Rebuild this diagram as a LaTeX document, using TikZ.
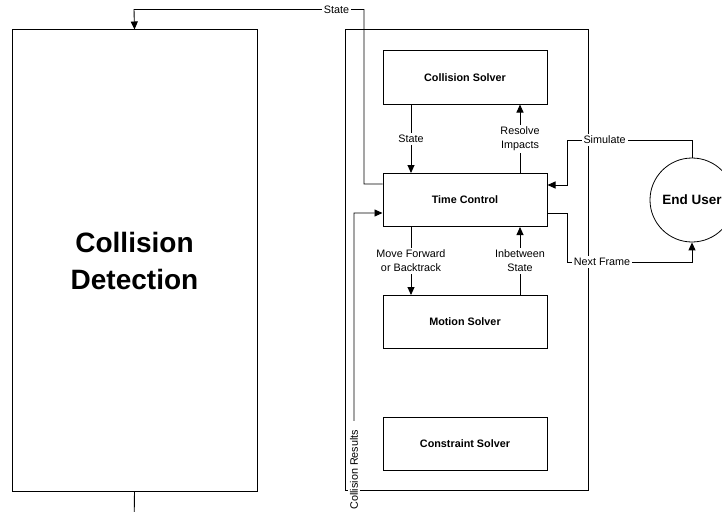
\documentclass[tikz,border=0pt]{standalone}
\usepackage{fontspec}
\setmainfont{Liberation Sans}
\usetikzlibrary{arrows.meta}

\tikzset{
  wire/.style={line width=0.9pt, draw=black},
  arr/.style={wire, -{Triangle[length=8pt,width=7pt]}},
  solver/.style={draw, line width=1pt, minimum width=164pt, minimum height=53pt,
    inner sep=0pt, font=\fontsize{10.8}{13}\selectfont\bfseries},
  lbl/.style={fill=white, align=center, inner sep=2pt,
    font=\fontsize{10.8}{14}\selectfont},
}

\begin{document}
\begin{tikzpicture}[x=1pt,y=-1pt]
  \path[use as bounding box] (0,0) rectangle (722,511);

  % detection block on the left
  \node[draw, line width=1pt, minimum width=245pt, minimum height=461pt, inner sep=0pt,
        align=center, font=\fontsize{28}{37}\selectfont\bfseries]
        (cd) at (134.5,260.5) {Collision\\Detection};

  % frame grouping the solvers
  \node[draw, line width=1pt, minimum width=243pt, minimum height=460pt, inner sep=0pt]
        (frame) at (466.5,260) {};

  \node[solver] (cs)  at (465,77.5) {Collision Solver};
  \node[solver] (tc)  at (465,200)  {Time Control};
  \node[solver] (ms)  at (465,322)  {Motion Solver};
  \node[solver] (con) at (465,444)  {Constraint Solver};

  \node[draw, circle, line width=0.8pt, minimum size=84pt, inner sep=0pt,
        font=\fontsize{13.5}{16}\selectfont\bfseries] (eu) at (692,200) {End User};

  % routing points
  \coordinate (s1) at (364,184);
  \coordinate (s2) at (364,9.5);
  \coordinate (s3) at (134,9.5);
  \coordinate (r1) at (134,530);
  \coordinate (r2) at (354,530);
  \coordinate (r3) at (354,213);
  \coordinate (u1) at (692,140);
  \coordinate (u2) at (567,140);
  \coordinate (u3) at (567,185);
  \coordinate (f1) at (567,213);
  \coordinate (f2) at (567,262);
  \coordinate (f3) at (692,262);

  % solver <-> time control
  \draw[arr] ([xshift=-54pt]cs.south) -- node[lbl] {State} ([xshift=-54pt]tc.north);
  \draw[arr] ([xshift=55pt]tc.north) -- node[lbl] {Resolve\\Impacts} ([xshift=55pt]cs.south);
  \draw[arr] ([xshift=-54pt]tc.south) -- node[lbl] {Move Forward\\or Backtrack} ([xshift=-54pt]ms.north);
  \draw[arr] ([xshift=55pt]ms.north) -- node[lbl] {Inbetween\\State} ([xshift=55pt]tc.south);

  % time control <-> detection
  \draw[arr] ([yshift=16pt]tc.west) -- (s1) -- (s2) -- node[lbl, pos=0.12] {State} (s3) -- (cd.north);
  \draw[arr] (cd.south) -- (r1) -- (r2)
    -- node[lbl, rotate=90, inner xsep=9pt, pos=0.19] {Collision Results} (r3)
    -- ([yshift=-13pt]tc.west);

  % time control <-> end user
  \draw[arr] (eu.north) -- (u1) -- node[lbl, pos=0.7] {Simulate} (u2) -- (u3)
    -- ([yshift=15pt]tc.east);
  \draw[arr] ([yshift=-13pt]tc.east) -- (f1) -- (f2)
    -- node[lbl, pos=0.28] {Next Frame} (f3) -- (eu.south);
\end{tikzpicture}
\end{document}
